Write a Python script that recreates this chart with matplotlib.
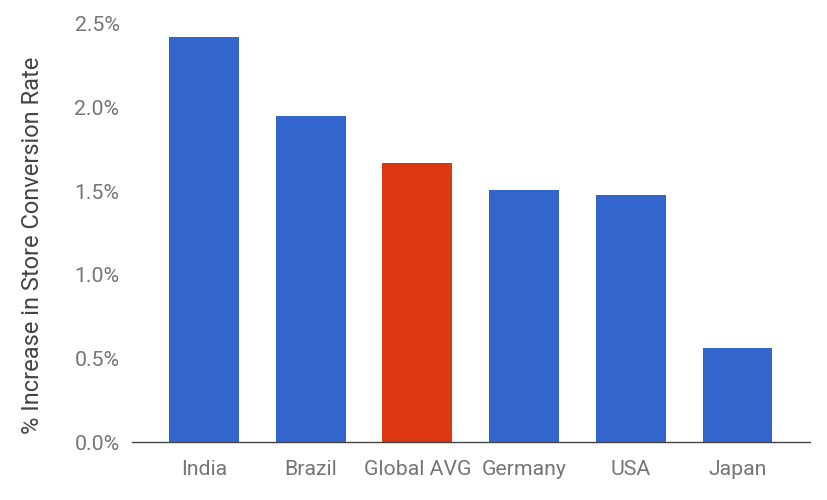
import matplotlib
matplotlib.use("Agg")
import matplotlib.pyplot as plt
from matplotlib.ticker import FuncFormatter

categories = ["India", "Brazil", "Global AVG", "Germany", "USA", "Japan"]
values = [2.42, 1.95, 1.67, 1.51, 1.48, 0.56]
colors = ["#3366CC", "#3366CC", "#DC3912", "#3366CC", "#3366CC", "#3366CC"]
yticks = [0.0, 0.5, 1.0, 1.5, 2.0, 2.5]

plt.rcParams['font.family'] = ['Roboto', 'DejaVu Sans']
fig = plt.figure(figsize=(8.28, 5.0), dpi=100)
ax = fig.add_axes([132/828, 58/500, (810-132)/828, (442-24)/500])

x = list(range(len(categories)))
ax.bar(x, values, width=0.655, color=colors)
ax.set_xlim(-0.675, 5.68)
ax.set_ylim(0, 2.5)
ax.set_yticks(yticks)
ax.yaxis.set_major_formatter(FuncFormatter(lambda v, p: f"{v:.1f}%"))
ax.set_xticks(x)
ax.set_xticklabels(categories)
ax.tick_params(axis='both', length=0, labelsize=15.3, colors='#757575')
ax.tick_params(axis='y', pad=9)
ax.tick_params(axis='x', pad=13)
for s in ['top', 'right', 'left']:
    ax.spines[s].set_visible(False)
ax.spines['bottom'].set_color('#444444')
ax.spines['bottom'].set_linewidth(1.0)
ax.set_ylabel("% Increase in Store Conversion Rate", fontsize=17, color='#444444')
ax.yaxis.set_label_coords(-0.130, 0.471)

fig.savefig("out.png", dpi=100)
